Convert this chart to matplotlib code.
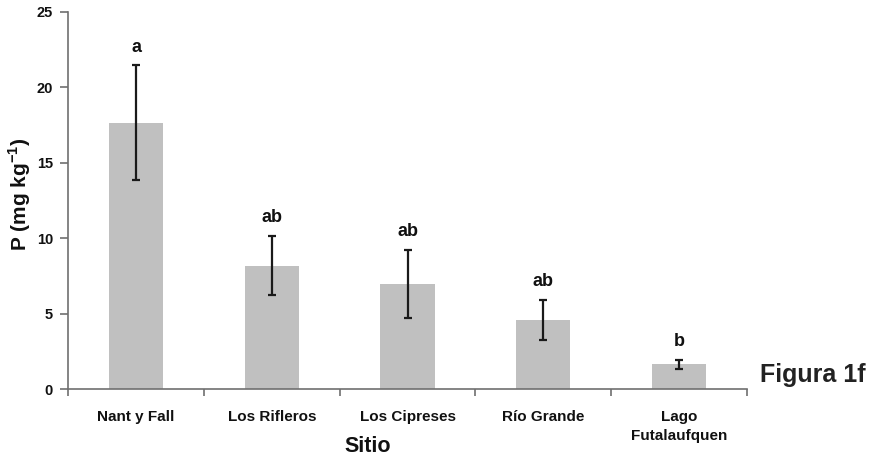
import matplotlib
matplotlib.use("Agg")
import matplotlib.pyplot as plt
import numpy as np

plt.rcParams['font.family'] = ['Liberation Sans', 'DejaVu Sans']
plt.rcParams['mathtext.fontset'] = 'custom'
plt.rcParams['mathtext.rm'] = 'Liberation Sans'
plt.rcParams['mathtext.bf'] = 'Liberation Sans:bold'

sitios = ["Nant y Fall", "Los Rifleros", "Los Cipreses", "Río Grande", "Lago\nFutalaufquen"]
p_media = [17.65, 8.2, 6.97, 4.6, 1.65]
p_error = [3.8, 1.96, 2.25, 1.31, 0.27]
letras = ["a", "ab", "ab", "ab", "b"]

fig = plt.figure(figsize=(8.79, 4.57), dpi=100)
ax = fig.add_axes([0.0777, 0.148, 0.772, 0.826])

x = np.arange(len(sitios))
ax.bar(x, p_media, width=0.4, color="#c0c0c0", zorder=1)
ax.errorbar(x, p_media, yerr=p_error, fmt="none", ecolor="#1a1a1a",
            elinewidth=1.6, capsize=3, capthick=1.6, zorder=2)

for xi, m, e, lb in zip(x, p_media, p_error, letras):
    ax.annotate(lb, xy=(xi, m + e), xytext=(0, 10), textcoords="offset points",
                ha="center", va="baseline", fontsize=13, fontweight="bold", color="#111111")

ax.set_xlim(-0.5, len(sitios) - 0.5)
ax.set_ylim(0, 25)
ax.set_yticks([0, 5, 10, 15, 20, 25])
ax.set_xticks(x)
ax.set_xticklabels(sitios, fontsize=11, fontweight="bold", linespacing=1.45, color="#111111")
ax.set_xticks(np.arange(-0.5, len(sitios)), minor=True)
ax.tick_params(axis="x", which="major", length=0, pad=15)
ax.tick_params(axis="x", which="minor", length=5, width=1.2, color="#707070", direction="out")
ax.tick_params(axis="y", length=6, width=1.2, color="#707070", labelsize=10.5, pad=5,
               labelcolor="#111111")
for t in ax.get_yticklabels():
    t.set_fontweight("bold")

for s in ["top", "right"]:
    ax.spines[s].set_visible(False)
for s in ["left", "bottom"]:
    ax.spines[s].set_color("#707070")
    ax.spines[s].set_linewidth(1.2)

ax.set_ylabel(r"P (mg kg$^{\mathbf{-1}}$)", fontsize=15, fontweight="bold", color="#111111")
ax.yaxis.set_label_coords(-0.052, 0.518)

fig.text(0.418, 0.011, "Sitio", fontsize=15.5, fontweight="bold", color="#111111",
         ha="center", va="baseline")

fig.text(0.865, 0.1648, "Figura 1f", fontsize=18, fontweight="bold", color="#222222",
         ha="left", va="baseline")

fig.savefig("out.png", dpi=100)
plt.close(fig)
